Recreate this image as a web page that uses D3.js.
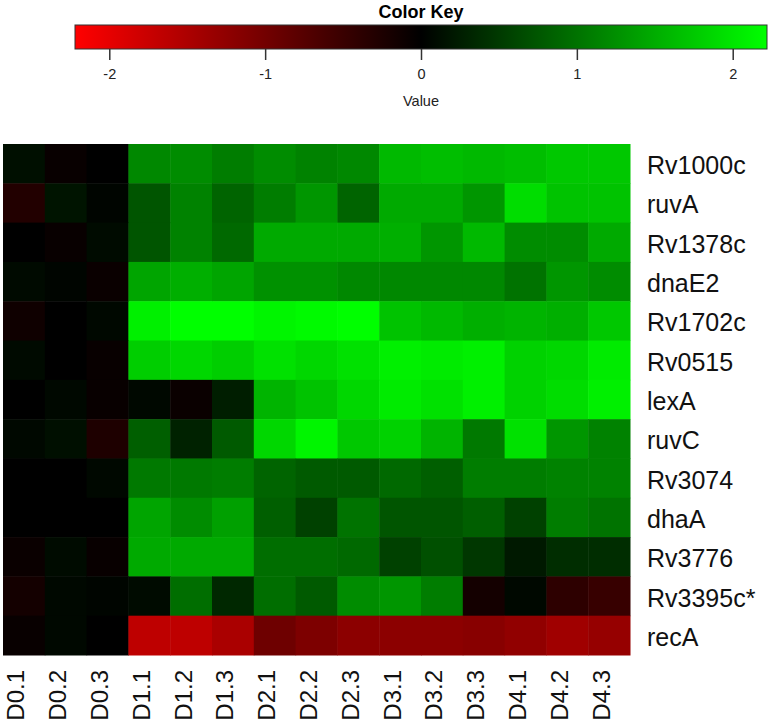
<!DOCTYPE html>
<html>
<head>
<meta charset="utf-8">
<script src="https://cdn.jsdelivr.net/npm/d3@7"></script>
<style>
  body { margin: 0; background: #fff; }
  svg { display: block; font-family: Arial, "Liberation Sans", sans-serif; }
</style>
</head>
<body>
<div id="chart"></div>
<script>
var samples = ["D0.1","D0.2","D0.3","D1.1","D1.2","D1.3","D2.1","D2.2","D2.3","D3.1","D3.2","D3.3","D4.1","D4.2","D4.3"];
var genes = ["Rv1000c","ruvA","Rv1378c","dnaE2","Rv1702c","Rv0515","lexA","ruvC","Rv3074","dhaA","Rv3776","Rv3395c*","recA"];

// one row per gene, same order as samples
var Rv1000c  = [0.13,-0.07,0.00,1.18,1.22,1.09,1.22,1.13,1.18,1.61,1.65,1.61,1.65,1.74,1.74];
var ruvA     = [-0.30,0.17,0.04,0.74,1.13,0.87,1.09,1.31,0.87,1.48,1.48,1.31,1.92,1.70,1.70];
var Rv1378c  = [0.00,-0.07,0.10,0.74,1.13,0.91,1.48,1.48,1.48,1.52,1.31,1.61,1.22,1.22,1.48];
var dnaE2    = [0.09,0.04,-0.09,1.44,1.52,1.44,1.26,1.26,1.18,1.18,1.18,1.18,1.00,1.31,1.22];
var Rv1702c  = [-0.13,0.00,0.07,2.09,2.22,2.22,2.13,2.18,2.22,1.70,1.61,1.52,1.57,1.52,1.74];
var Rv0515   = [0.09,0.00,-0.07,1.79,1.87,1.79,1.96,1.87,1.96,2.09,2.05,2.09,1.83,1.87,2.05];
var lexA     = [0.00,0.07,-0.07,0.07,-0.09,0.26,1.57,1.70,1.87,2.05,1.96,2.09,1.83,1.92,2.09];
var ruvC     = [0.07,0.13,-0.26,0.83,0.30,0.78,1.87,2.13,1.74,1.83,1.57,1.05,1.96,1.31,1.13];
var Rv3074   = [0.00,0.00,0.07,1.05,1.05,1.09,0.87,0.78,0.78,0.91,0.83,1.09,1.09,1.13,1.13];
var dhaA     = [0.00,0.00,0.00,1.44,1.22,1.39,0.83,0.57,1.00,0.74,0.74,0.83,0.57,1.09,1.00];
var Rv3776   = [-0.09,0.10,-0.07,1.48,1.48,1.48,0.96,0.96,0.91,0.57,0.70,0.48,0.22,0.39,0.39];
var Rv3395c  = [-0.17,0.07,0.04,0.10,0.96,0.35,0.96,0.78,1.22,1.31,1.09,-0.17,0.07,-0.39,-0.48];
var recA     = [-0.07,0.07,0.00,-1.65,-1.65,-1.48,-0.96,-1.09,-1.22,-1.22,-1.22,-1.18,-1.26,-1.39,-1.31];

var rows = [Rv1000c, ruvA, Rv1378c, dnaE2, Rv1702c, Rv0515, lexA, ruvC, Rv3074, dhaA, Rv3776, Rv3395c, recA];
var keyTicks = [-2, -1, 0, 1, 2];
var keyRange = [-2.22, 2.22];

var width = 773, height = 726;

var svg = d3.select("#chart")
    .append("svg")
    .attr("width", width)
    .attr("height", height);

var color = d3.scaleLinear()
    .domain([keyRange[0], 0, keyRange[1]])
    .range(["#ff0000", "#000000", "#00ff00"])
    .clamp(true);

// cells
var cells = [];
rows.forEach(function(r, i) {
    r.forEach(function(v, j) {
        cells.push({ gene: genes[i], sample: samples[j], value: v });
    });
});

var xScale = d3.scaleBand()
    .domain(samples)
    .range([3, 630]);

var yScale = d3.scaleBand()
    .domain(genes)
    .range([144, 655]);

svg.append("g")
    .selectAll("rect")
    .data(cells)
    .enter()
    .append("rect")
    .attr("x", function(d) { return xScale(d.sample); })
    .attr("y", function(d) { return yScale(d.gene); })
    .attr("width", xScale.bandwidth() + 0.5)
    .attr("height", yScale.bandwidth() + 0.5)
    .attr("fill", function(d) { return color(d.value); });

// gene labels on the right
var yAxis = svg.append("g")
    .attr("transform", "translate(630,0)")
    .call(d3.axisRight(yScale).tickSize(0).tickPadding(17));
yAxis.select(".domain").remove();
yAxis.selectAll("text")
    .style("font-size", "25px")
    .attr("fill", "#111")
    .attr("dy", "0.42em");

// sample labels below, rotated
var xAxis = svg.append("g")
    .attr("transform", "translate(0,655)")
    .call(d3.axisBottom(xScale).tickSize(0).tickPadding(0));
xAxis.select(".domain").remove();
xAxis.selectAll("text")
    .style("font-size", "24px")
    .attr("fill", "#111")
    .attr("transform", "rotate(-90)")
    .attr("text-anchor", "end")
    .attr("x", -15)
    .attr("y", -8)
    .attr("dy", "0.35em");

// color key
var keyX = d3.scaleLinear()
    .domain(keyRange)
    .range([75, 767]);

var grad = svg.append("defs")
    .append("linearGradient")
    .attr("id", "keygrad")
    .attr("x1", "0%").attr("y1", "0%")
    .attr("x2", "100%").attr("y2", "0%");

d3.range(0, 1.0001, 0.05).forEach(function(t) {
    var v = keyRange[0] + t * (keyRange[1] - keyRange[0]);
    grad.append("stop")
        .attr("offset", (t * 100) + "%")
        .attr("stop-color", color(v));
});

svg.append("rect")
    .attr("x", keyX(keyRange[0]))
    .attr("y", 25)
    .attr("width", keyX(keyRange[1]) - keyX(keyRange[0]))
    .attr("height", 24)
    .attr("fill", "url(#keygrad)")
    .attr("stroke", "#333")
    .attr("stroke-width", 1);

var keyAxis = svg.append("g")
    .attr("transform", "translate(0,49)")
    .call(d3.axisBottom(keyX)
        .tickValues(keyTicks)
        .tickFormat(function(d) { return String(d); })
        .tickSize(11)
        .tickPadding(9));
keyAxis.select(".domain").remove();
keyAxis.selectAll("line").attr("stroke", "#333").attr("stroke-width", 1.5);
keyAxis.selectAll("text")
    .style("font-size", "14.5px")
    .attr("fill", "#222");

svg.append("text")
    .attr("x", keyX(0))
    .attr("y", 18)
    .attr("text-anchor", "middle")
    .style("font-size", "18px")
    .style("font-weight", "bold")
    .text("Color Key");

svg.append("text")
    .attr("x", keyX(0))
    .attr("y", 106)
    .attr("text-anchor", "middle")
    .style("font-size", "14.5px")
    .attr("fill", "#222")
    .text("Value");
</script>
</body>
</html>
